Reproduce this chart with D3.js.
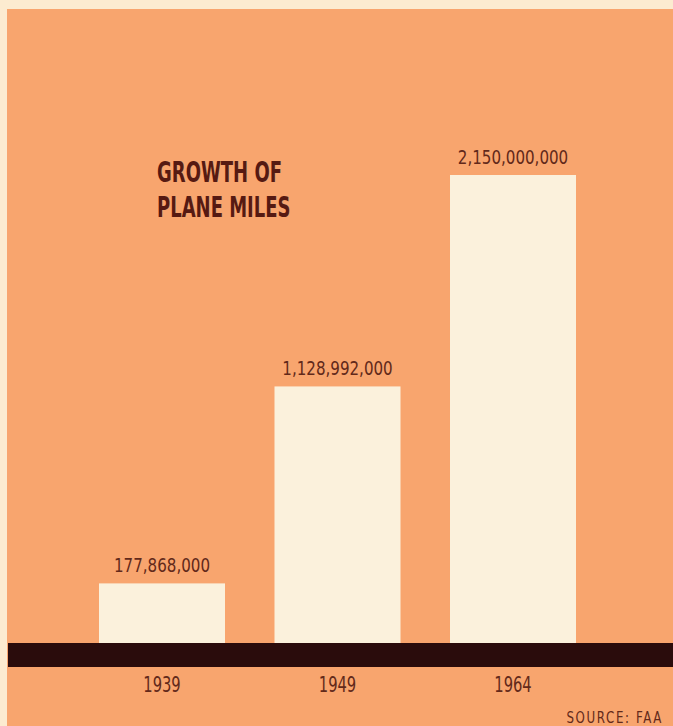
<!DOCTYPE html>
<html>
<head>
<meta charset="utf-8">
<script src="https://cdn.jsdelivr.net/npm/d3@7"></script>
<style>
  body { margin: 0; background: #fcebd0; }
  svg { display: block; }
  text { font-family: "Liberation Sans Narrow", "DejaVu Sans Condensed", "Roboto", sans-serif; font-stretch: condensed; }
</style>
</head>
<body>
<svg id="chart"></svg>
<script>
// data
const years = ["1939", "1949", "1964"]
const planeMiles = [177868000, 1128992000, 2150000000]
const titleLines = ["GROWTH OF", "PLANE MILES"]
const sourceNote = "SOURCE: FAA"

const W = 673, H = 726
const baseY = 643   // top of the black band

const svg = d3.select("#chart")
              .attr("width", W)
              .attr("height", H)

// orange panel
svg.append("rect")
   .attr("x", 7).attr("y", 9)
   .attr("width", W - 7).attr("height", H - 9)
   .style("fill", "#f8a56e")

// scales
const x = d3.scaleBand()
            .domain(years)
            .range([74.25, 600.75])
            .paddingInner(0.282)
            .paddingOuter(0.141)

// the printed bars are not drawn from zero, so the domain starts a bit below it
const y = d3.scaleLinear()
            .domain([-110000000, d3.max(planeMiles)])
            .range([baseY, 175])

const rows = years.map((yr, i) => ({ year: yr, value: planeMiles[i] }))

// bars
svg.selectAll(".bar")
   .data(rows)
   .enter()
   .append("rect")
   .attr("class", "bar")
   .attr("x", d => x(d.year))
   .attr("y", d => y(d.value))
   .attr("width", x.bandwidth())
   .attr("height", d => baseY - y(d.value))
   .style("fill", "#fbf1dc")

// value labels (squeezed to look like a condensed face)
svg.selectAll(".val")
   .data(rows)
   .enter()
   .append("text")
   .attr("class", "val")
   .attr("transform", d => "translate(" + (x(d.year) + x.bandwidth() / 2) + "," + (y(d.value) - 11) + ") scale(0.84,1)")
   .attr("text-anchor", "middle")
   .style("font-size", "20px")
   .style("fill", "#62291a")
   .text(d => d3.format(",")(d.value))

// black base band
svg.append("rect")
   .attr("x", 8).attr("y", baseY)
   .attr("width", W - 8).attr("height", 24)
   .style("fill", "#2a0c0c")

// year axis
const axis = svg.append("g")
                .attr("transform", "translate(0," + (baseY + 24) + ")")
                .call(d3.axisBottom(x).tickSize(0).tickPadding(10))
axis.select(".domain").remove()
axis.selectAll("text")
    .attr("transform", "scale(0.78,1)")
    .style("font-size", "21px")
    .style("font-family", "\"Liberation Sans Narrow\", \"DejaVu Sans Condensed\", sans-serif")
    .style("fill", "#62291a")

// title
svg.selectAll(".title")
   .data(titleLines)
   .enter()
   .append("text")
   .attr("class", "title")
   .attr("transform", (d, i) => "translate(157," + (182 + i * 35) + ") scale(0.69,1)")
   .style("font-size", "29px")
   .style("font-weight", "bold")
   .style("fill", "#561a12")
   .text(d => d)

// source
svg.append("text")
   .attr("transform", "translate(663,723) scale(0.82,1)")
   .attr("text-anchor", "end")
   .style("font-size", "16px")
   .style("letter-spacing", "2px")
   .style("fill", "#62291a")
   .text(sourceNote)
</script>
</body>
</html>
